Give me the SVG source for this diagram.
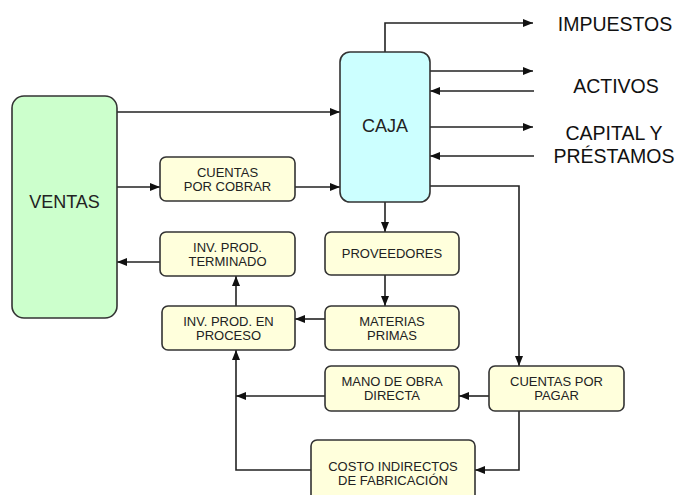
<svg xmlns="http://www.w3.org/2000/svg" width="679" height="495" viewBox="0 0 679 495">
<defs>
<marker id="ah" markerUnits="userSpaceOnUse" markerWidth="10" markerHeight="8" refX="10" refY="4" orient="auto">
<path d="M0,0 L10,4 L0,8 z" fill="#111"/>
</marker>
<style>
.c{fill:none;stroke:#222;stroke-width:1.6;marker-end:url(#ah)}
.n{fill:none;stroke:#222;stroke-width:1.6}
.box{fill:#ffffdc;stroke:#333;stroke-width:1.6}
.t{font-family:"Liberation Sans",Arial,sans-serif;font-size:13px;fill:#222;text-anchor:middle}
.big{font-family:"Liberation Sans",Arial,sans-serif;font-size:18px;fill:#222;text-anchor:middle}
.side{font-family:"Liberation Sans",Arial,sans-serif;font-size:19.5px;fill:#111;text-anchor:middle}
</style>
</defs>
<rect width="679" height="495" fill="#fff"/>
<g id="connectors">
<path class="c" d="M117,112 H340"/>
<path class="c" d="M117,187 H160"/>
<path class="c" d="M295,187 H340"/>
<path class="c" d="M160,262 H117"/>
<path class="c" d="M236,306 V276"/>
<path class="c" d="M385,52 V23 H533"/>
<path class="c" d="M430,71 H533"/>
<path class="c" d="M534,91 H430"/>
<path class="c" d="M430,127 H533"/>
<path class="c" d="M534,156 H430"/>
<path class="c" d="M385,202 V232"/>
<path class="c" d="M430,186 H519 V366"/>
<path class="c" d="M385,275 V306"/>
<path class="c" d="M325,319 H295"/>
<path class="c" d="M489,396 H459"/>
<path class="c" d="M325,396 H236"/>
<path class="c" d="M519,411 V470 H475"/>
<path class="c" d="M311,470 H236 V350"/>
</g>
<g id="ventas">
<rect x="12" y="96" width="105" height="222" rx="12" fill="#ccffcc" stroke="#333" stroke-width="1.6"/>
<text class="big" x="64.5" y="208">VENTAS</text>
</g>
<g id="caja">
<rect x="340" y="52" width="90" height="150" rx="10" fill="#ccffff" stroke="#333" stroke-width="1.6"/>
<text class="big" x="385" y="132">CAJA</text>
</g>
<g id="impuestos"><text class="side" x="615" y="31">IMPUESTOS</text></g>
<g id="activos"><text class="side" x="616" y="93">ACTIVOS</text></g>
<g id="capital"><text class="side" x="614" y="140">CAPITAL Y</text><text class="side" x="614" y="163">PRÉSTAMOS</text></g>
<g id="cxc">
<rect class="box" x="160" y="157" width="135" height="44" rx="6"/>
<text class="t" x="227.5" y="177">CUENTAS</text><text class="t" x="227.5" y="191">POR COBRAR</text>
</g>
<g id="terminado">
<rect class="box" x="160" y="232" width="135" height="44" rx="6"/>
<text class="t" x="227.5" y="252">INV. PROD.</text><text class="t" x="227.5" y="266">TERMINADO</text>
</g>
<g id="proceso">
<rect class="box" x="162" y="306" width="133" height="44" rx="6"/>
<text class="t" x="228.5" y="326">INV. PROD. EN</text><text class="t" x="228.5" y="340">PROCESO</text>
</g>
<g id="proveedores">
<rect class="box" x="325" y="232" width="134" height="43" rx="6"/>
<text class="t" x="392" y="258">PROVEEDORES</text>
</g>
<g id="materias">
<rect class="box" x="325" y="306" width="134" height="44" rx="6"/>
<text class="t" x="392" y="326">MATERIAS</text><text class="t" x="392" y="340">PRIMAS</text>
</g>
<g id="mano">
<rect class="box" x="325" y="366" width="134" height="45" rx="6"/>
<text class="t" x="392" y="386">MANO DE OBRA</text><text class="t" x="392" y="400">DIRECTA</text>
</g>
<g id="cxp">
<rect class="box" x="489" y="366" width="135" height="45" rx="6"/>
<text class="t" x="556.5" y="386">CUENTAS POR</text><text class="t" x="556.5" y="400">PAGAR</text>
</g>
<g id="costo">
<rect class="box" x="311" y="440" width="164" height="70" rx="6"/>
<text class="t" x="393" y="471">COSTO INDIRECTOS</text><text class="t" x="393" y="485">DE FABRICACIÓN</text>
</g>
</svg>
